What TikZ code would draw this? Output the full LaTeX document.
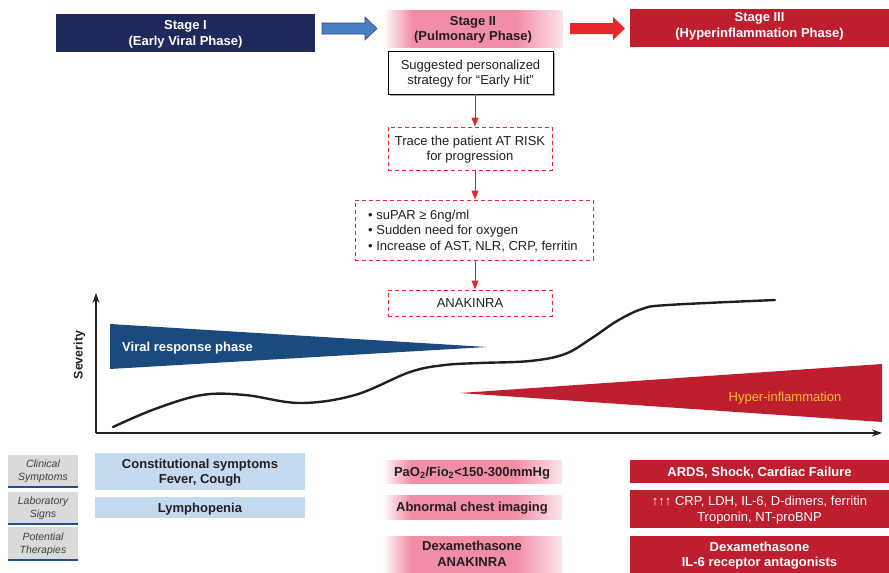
\documentclass[tikz,border=0pt]{standalone}
\usepackage{fontspec}
\setmainfont{Liberation Sans}
\usetikzlibrary{arrows.meta,calc}

\definecolor{navy}{HTML}{1F295C}
\definecolor{arrowblue}{HTML}{4A7EC2}
\definecolor{arrowblueline}{HTML}{2E4A7A}
\definecolor{crimson}{HTML}{BE1E2D}
\definecolor{flowred}{HTML}{E8262C}
\definecolor{pinkc}{HTML}{F28DA6}
\definecolor{viralblue}{HTML}{1B4B7E}
\definecolor{paleblue}{HTML}{C6DAEF}
\definecolor{labelgray}{HTML}{DADADA}
\definecolor{labelline}{HTML}{1F4E8C}
\definecolor{hyperyellow}{HTML}{F2C12E}
\definecolor{ink}{HTML}{231F20}

% white -> pink -> pale pink, across the box
\pgfdeclarehorizontalshading{pinkfade}{100bp}{color(0bp)=(white); color(25bp)=(white); color(33bp)=(pinkc); color(62bp)=(pinkc); color(75bp)=(pinkc!22); color(100bp)=(pinkc!22)}

\begin{document}
\begin{tikzpicture}[x=1pt,y=-1pt,
  box/.style={rectangle, inner sep=0pt, align=center, text=ink, text depth=0pt,
    font=\fontsize{13}{15.5}\selectfont},
  boldbox/.style={box, font=\bfseries\fontsize{13}{15.5}\selectfont},
  stagebox/.style={boldbox, text=white},
  pinkbox/.style={boldbox, shade, shading=pinkfade},
  redbox/.style={boldbox, fill=crimson, text=white},
  bluebox/.style={boldbox, fill=paleblue},
  riskbox/.style={box, draw=flowred, line width=1pt, dash pattern=on 4pt off 3pt},
  tagbox/.style={rectangle, inner sep=0pt, align=center, fill=labelgray, text depth=0pt,
    text=black!75, font=\itshape\fontsize{10.5}{13}\selectfont,
    minimum width=70pt},
  flow/.style={draw=flowred, line width=1pt, -{Triangle[length=9pt,width=7pt]}},
  axis/.style={line width=1.4pt, draw=ink, -{Stealth[length=10pt,width=7pt]}},
]
\useasboundingbox (0,0) rectangle (889,573);

% ---- stage headers ----
\node[stagebox, fill=navy, minimum width=259pt, minimum height=38pt]
  (s1) at (185.5,33) {Stage I\\(Early Viral Phase)};
\node[pinkbox, minimum width=180pt, minimum height=37pt]
  (s2) at (473,28.5) {Stage II\\(Pulmonary Phase)};
\node[stagebox, fill=crimson, minimum width=259pt, minimum height=38pt]
  (s3) at (759.5,28) {};
\node[stagebox] at (s3.center) [yshift=3pt] {Stage III\\(Hyperinflammation Phase)};

% block arrows between the stages
\filldraw[fill=arrowblue, draw=arrowblueline, line width=0.6pt]
  (322,23) -- (365,23) -- (365,17) -- (377,28.5) -- (365,40) -- (365,34) -- (322,34) -- cycle;
\fill[flowred]
  (570,23) -- (613,23) -- (613,17) -- (625,28.5) -- (613,40) -- (613,34) -- (570,34) -- cycle;

% ---- early-hit strategy ----
\fill[black!35] (390,53) rectangle (555,96);
\node[box, draw=black, fill=white, line width=0.9pt, minimum width=165pt, minimum height=43pt]
  (sugg) at (470.5,72.5) {Suggested personalized\\strategy for “Early Hit”};
\node[riskbox, minimum width=164pt, minimum height=43pt]
  (trace) at (470,148.5) {Trace the patient AT RISK\\for progression};
\node[riskbox, minimum width=238pt, minimum height=60pt]
  (crit) at (474,230) {};
\node[box, align=left, anchor=west] at (368,230)
  {\textbullet\ suPAR ≥ 6ng/ml\\\textbullet\ Sudden need for oxygen\\\textbullet\ Increase of AST, NLR, CRP, ferritin};
\node[riskbox, minimum width=164pt, minimum height=26pt]
  (ana) at (470,303) {ANAKINRA};

\coordinate (ax) at (475,0);
\draw[flow] (sugg.south -| ax) -- (trace.north -| ax);
\draw[flow] (trace.south -| ax) -- (crit.north -| ax);
\draw[flow] (crit.south -| ax) -- (ana.north -| ax);

% ---- severity chart ----
\coordinate (origin) at (96,433);
\coordinate (ytop) at (96,293);
\coordinate (xend) at (882,433);

\fill[viralblue] (110,324) -- (487,347) -- (110,369) -- cycle;
\node[boldbox, text=white, anchor=west] (viral) at (122,347) {Viral response phase};

\fill[crimson] (460,393) -- (882,364) -- (882,422) -- cycle;
\node[box, text=hyperyellow, anchor=center] (hyper) at (785,397) {Hyper-inflammation};

\draw[axis] (origin) -- (ytop);
\draw[axis] (origin) -- (xend);
\node[boldbox, rotate=90, font=\bfseries\fontsize{12.5}{15}\selectfont] (sev) at (78,355) {Severity};

\draw[line width=2.4pt, line cap=round, draw=ink] plot[smooth, tension=0.6] coordinates
  {(113,427) (155,409) (202,395) (245,395) (300,403) (355,395) (410,372) (445,365)
   (480,363) (530,361) (565,354) (592,338) (617,321) (642,309) (668,305) (775,300)};

% ---- row labels ----
\node[tagbox, minimum height=31pt] (t1) at (43,470.5) {Clinical\\Symptoms};
\node[tagbox, minimum height=31pt] (t2) at (43,507.5) {Laboratory\\Signs};
\node[tagbox, minimum height=32pt] (t3) at (43,543) {Potential\\Therapies};
\foreach \t in {t1,t2,t3}
  \draw[labelline, line width=2pt] ([yshift=-1pt]\t.south west) -- ([yshift=-1pt]\t.south east);

% ---- stage I rows ----
\node[bluebox, minimum width=210pt, minimum height=37pt] (c1) at (200,471.5)
  {Constitutional symptoms\\Fever, Cough};
\node[bluebox, minimum width=210pt, minimum height=21pt] (l1) at (200,507.5) {Lymphopenia};

% ---- stage II rows ----
\node[pinkbox, minimum width=180pt, minimum height=23pt] (c2) at (472,471.5)
  {PaO\textsubscript{2}/Fio\textsubscript{2}<150-300mmHg};
\node[pinkbox, minimum width=180pt, minimum height=24pt] (l2) at (472,507) {Abnormal chest imaging};
\node[pinkbox, minimum width=180pt, minimum height=36pt] (p2) at (472,554)
  {Dexamethasone\\ANAKINRA};

% ---- stage III rows ----
\node[redbox, minimum width=259pt, minimum height=23pt] (c3) at (759.5,471.5)
  {ARDS, Shock, Cardiac Failure};
\node[redbox, font=\fontsize{13}{15.5}\selectfont, minimum width=259pt, minimum height=38pt]
  (l3) at (759.5,509) {↑↑↑ CRP, LDH, IL-6, D-dimers, ferritin\\Troponin, NT-proBNP};
\node[redbox, minimum width=259pt, minimum height=37pt] (p3) at (759.5,554.5)
  {Dexamethasone\\IL-6 receptor antagonists};
\end{tikzpicture}
\end{document}
